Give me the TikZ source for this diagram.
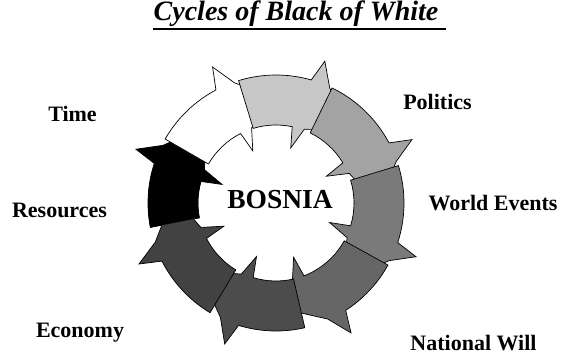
\documentclass[tikz,border=0pt]{standalone}
\usepackage{fontspec}
\setmainfont{Liberation Serif}
\usetikzlibrary{positioning}

\tikzset{
  lbl/.style={font=\fontsize{22}{24}\selectfont\bfseries, inner sep=0pt, anchor=base},
  ring/.style={draw=black, line width=0.7pt, line join=miter},
}

\begin{document}
\begin{tikzpicture}[x=1pt, y=1pt]
\useasboundingbox (0,0) rectangle (564,354);
\coordinate (c) at (276,151);

% the eight arrows of the cycle, clockwise
\begin{scope}[shift={(c)}]
\foreach \t/\hi/\ho/\col in {191/161/159/black, 150/114/115/white, 107/75/71/black!22, 64/28/25/black!36, 17/-20/-21/black!52, -29/-72/-60/black!60, -77/-110/-110/black!70, -121/-156/-156/black!74}{
  \pgfmathsetmacro\tip{(\hi+\ho)/2-28}
  \filldraw[ring, fill=\col] (\t:78) arc[start angle=\t, end angle=\hi+3, radius=78]
    -- (\hi:57) -- (\hi-6:79) -- (\tip:103) -- (\ho-6:127) -- (\ho:150) -- (\ho+3:128)
    arc[start angle=\ho+3, end angle=\t, radius=128] -- cycle;
}
% black tail lies over the last head
\fill[black] (191:78) arc[start angle=191, end angle=166, radius=78] -- (166:128) arc[start angle=166, end angle=191, radius=128] -- cycle;
\end{scope}

\node[font=\fontsize{27.5}{30}\selectfont\bfseries, inner sep=0pt, anchor=base] (bosnia) at (280,146) {BOSNIA};

\node[font=\fontsize{28}{30}\selectfont\bfseries\itshape, inner sep=0pt, anchor=base] (title) at (296,333) {Cycles of Black of White};
\draw[line width=1.8pt] ([yshift=-8pt]title.base west) -- ([xshift=7pt,yshift=-8pt]title.base east);

\node[lbl] (time) at (72.5,233) {Time};
\node[lbl] (politics) at (437.5,244) {Politics};
\node[lbl] (resources) at (59.5,137) {Resources};
\node[lbl] (world) at (493,144) {World Events};
\node[lbl] (economy) at (80,17) {Economy};
\node[lbl] (will) at (473.5,4) {National Will};

\end{tikzpicture}
\end{document}
